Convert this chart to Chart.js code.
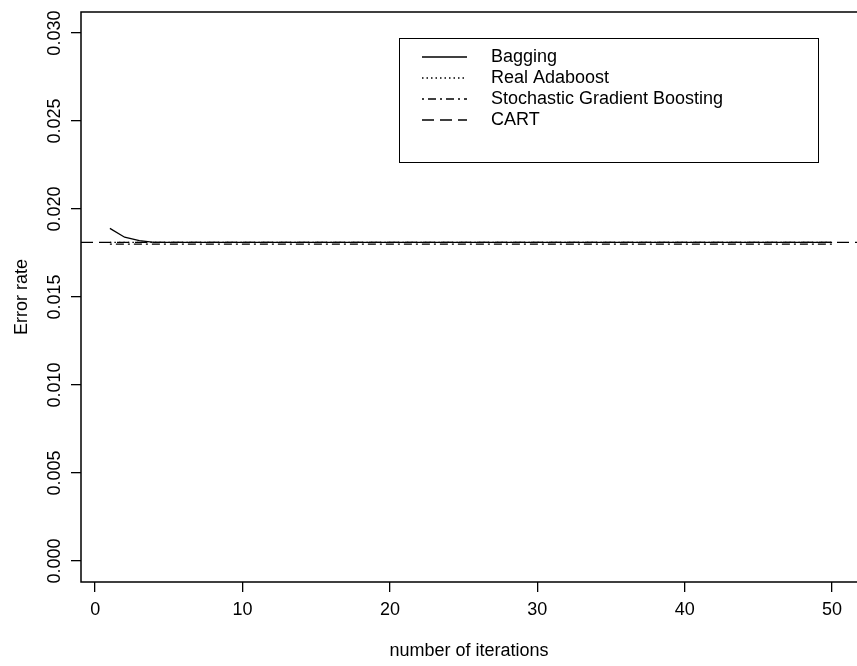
<!DOCTYPE html>
<html>
<head>
<meta charset="utf-8">
<script src="https://cdn.jsdelivr.net/npm/chart.js@4.4.1/dist/chart.umd.min.js"></script>
<style>
  html, body { margin: 0; padding: 0; background: #fff; overflow: hidden; }
  #wrap { width: 857px; height: 666px; }
</style>
</head>
<body>
<div id="wrap"><canvas id="chart" width="857" height="666"></canvas></div>
<script>
// ------------------------------------------------------------
// Error rate vs number of iterations
// ------------------------------------------------------------

const iterations = [
  1, 2, 3, 4, 5, 6, 7, 8, 9, 10,
  11, 12, 13, 14, 15, 16, 17, 18, 19, 20,
  21, 22, 23, 24, 25, 26, 27, 28, 29, 30,
  31, 32, 33, 34, 35, 36, 37, 38, 39, 40,
  41, 42, 43, 44, 45, 46, 47, 48, 49, 50
];

const bagging = [
  0.0189, 0.0184, 0.0182, 0.0181, 0.0181, 0.0181, 0.0181, 0.0181, 0.0181, 0.0181,
  0.0181, 0.0181, 0.0181, 0.0181, 0.0181, 0.0181, 0.0181, 0.0181, 0.0181, 0.0181,
  0.0181, 0.0181, 0.0181, 0.0181, 0.0181, 0.0181, 0.0181, 0.0181, 0.0181, 0.0181,
  0.0181, 0.0181, 0.0181, 0.0181, 0.0181, 0.0181, 0.0181, 0.0181, 0.0181, 0.0181,
  0.0181, 0.0181, 0.0181, 0.0181, 0.0181, 0.0181, 0.0181, 0.0181, 0.0181, 0.0181
];

const realAdaboost = [
  0.0181, 0.0181, 0.0181, 0.0181, 0.0181, 0.0181, 0.0181, 0.0181, 0.0181, 0.0181,
  0.0181, 0.0181, 0.0181, 0.0181, 0.0181, 0.0181, 0.0181, 0.0181, 0.0181, 0.0181,
  0.0181, 0.0181, 0.0181, 0.0181, 0.0181, 0.0181, 0.0181, 0.0181, 0.0181, 0.0181,
  0.0181, 0.0181, 0.0181, 0.0181, 0.0181, 0.0181, 0.0181, 0.0181, 0.0181, 0.0181,
  0.0181, 0.0181, 0.0181, 0.0181, 0.0181, 0.0181, 0.0181, 0.0181, 0.0181, 0.0181
];

const stochGradBoost = [
  0.0180, 0.0180, 0.0180, 0.0180, 0.0180, 0.0180, 0.0180, 0.0180, 0.0180, 0.0180,
  0.0180, 0.0180, 0.0180, 0.0180, 0.0180, 0.0180, 0.0180, 0.0180, 0.0180, 0.0180,
  0.0180, 0.0180, 0.0180, 0.0180, 0.0180, 0.0180, 0.0180, 0.0180, 0.0180, 0.0180,
  0.0180, 0.0180, 0.0180, 0.0180, 0.0180, 0.0180, 0.0180, 0.0180, 0.0180, 0.0180,
  0.0180, 0.0180, 0.0180, 0.0180, 0.0180, 0.0180, 0.0180, 0.0180, 0.0180, 0.0180
];

// single CART tree: a horizontal reference line across the whole plot
const cartLevel = 0.0181;

const seriesNames = ['Bagging', 'Real Adaboost', 'Stochastic Gradient Boosting', 'CART'];

// axis limits (R-style 4% extension) and ticks
const xLimits = [-0.96, 51.69];
const yLimits = [-0.0012, 0.0312];
const xTickValues = [0, 10, 20, 30, 40, 50];
const yTickValues = [0, 0.005, 0.010, 0.015, 0.020, 0.025, 0.030];
const yTickLabels = ['0.000', '0.005', '0.010', '0.015', '0.020', '0.025', '0.030'];

const FONT = "'Liberation Sans', Arial, sans-serif";
const FONT_SIZE = 18;

function toPoints(ys) {
  return ys.map((y, i) => ({ x: iterations[i], y }));
}

function lineDataset(label, data, dash) {
  return {
    label,
    data,
    borderColor: '#000',
    borderWidth: 1.3,
    borderDash: dash,
    pointRadius: 0,
    fill: false,
    tension: 0,
    clip: false,
  };
}

const datasets = [
  lineDataset(seriesNames[0], toPoints(bagging), []),
  lineDataset(seriesNames[1], toPoints(realAdaboost), [1.5, 3]),
  lineDataset(seriesNames[2], toPoints(stochGradBoost), [2, 4, 8, 4]),
  lineDataset(seriesNames[3], [{ x: xLimits[0], y: cartLevel }, { x: xLimits[1], y: cartLevel }], [12, 6]),
];

// box round the plot region (top / left / bottom; right edge is cropped off)
const framePlugin = {
  id: 'frame',
  afterDraw(chart) {
    const { ctx, chartArea: a } = chart;
    ctx.save();
    ctx.strokeStyle = '#000';
    ctx.lineWidth = 1.5;
    ctx.beginPath();
    ctx.moveTo(a.right + 2, a.top);
    ctx.lineTo(a.left, a.top);
    ctx.lineTo(a.left, a.bottom);
    ctx.lineTo(a.right + 2, a.bottom);
    ctx.stroke();
    ctx.restore();
  }
};

// rotated y tick labels (R las=0 style)
const yLabelsPlugin = {
  id: 'yLabels',
  afterDraw(chart) {
    const { ctx } = chart;
    const y = chart.scales.y;
    ctx.save();
    ctx.fillStyle = '#000';
    ctx.font = `${FONT_SIZE}px ${FONT}`;
    ctx.textAlign = 'center';
    ctx.textBaseline = 'middle';
    yTickValues.forEach((v, i) => {
      const py = y.getPixelForValue(v);
      ctx.save();
      ctx.translate(55, py);
      ctx.rotate(-Math.PI / 2);
      ctx.fillText(yTickLabels[i], 0, 0);
      ctx.restore();
    });
    ctx.restore();
  }
};

// boxed legend inside the plot, like R's legend()
const legendPlugin = {
  id: 'boxLegend',
  afterDraw(chart) {
    const { ctx } = chart;
    const box = { left: 399, top: 38, right: 818, bottom: 162 };
    ctx.save();
    ctx.fillStyle = '#fff';
    ctx.fillRect(box.left, box.top, box.right - box.left, box.bottom - box.top);
    ctx.strokeStyle = '#000';
    ctx.lineWidth = 1;
    ctx.strokeRect(box.left + 0.5, box.top + 0.5, box.right - box.left, box.bottom - box.top);
    ctx.font = `${FONT_SIZE}px ${FONT}`;
    ctx.textBaseline = 'middle';
    ctx.fillStyle = '#000';
    chart.data.datasets.forEach((ds, i) => {
      const cy = 57 + i * 21;
      ctx.beginPath();
      ctx.setLineDash(ds.borderDash || []);
      ctx.lineWidth = ds.borderWidth;
      ctx.moveTo(422, cy);
      ctx.lineTo(467, cy);
      ctx.stroke();
      ctx.setLineDash([]);
      ctx.fillText(ds.label, 491, cy);
    });
    ctx.restore();
  }
};

new Chart(document.getElementById('chart'), {
  type: 'line',
  data: { datasets },
  options: {
    responsive: false,
    animation: false,
    events: [],
    layout: { padding: { top: 12, right: 0, left: 0, bottom: 0 } },
    plugins: {
      legend: { display: false },
      tooltip: { enabled: false },
    },
    scales: {
      x: {
        type: 'linear',
        min: xLimits[0],
        max: xLimits[1],
        afterBuildTicks: (s) => { s.ticks = xTickValues.map(v => ({ value: v })); },
        afterFit: (s) => { s.height = 84; },
        grid: { drawOnChartArea: false, drawTicks: true, tickLength: 10, color: '#000', lineWidth: 1.3 },
        border: { display: false },
        ticks: {
          color: '#000',
          font: { family: FONT, size: FONT_SIZE },
          padding: 7,
          maxRotation: 0,
          callback: (v) => String(v),
        },
        title: {
          display: true,
          text: 'number of iterations',
          color: '#000',
          font: { family: FONT, size: FONT_SIZE },
          padding: { top: 0, bottom: 4 },
        },
      },
      y: {
        type: 'linear',
        min: yLimits[0],
        max: yLimits[1],
        afterBuildTicks: (s) => { s.ticks = yTickValues.map(v => ({ value: v })); },
        afterFit: (s) => { s.width = 81; },
        grid: { drawOnChartArea: false, drawTicks: true, tickLength: 10, color: '#000', lineWidth: 1.3 },
        border: { display: false },
        ticks: { display: false },
        title: {
          display: true,
          text: 'Error rate',
          color: '#000',
          font: { family: FONT, size: FONT_SIZE },
          padding: { top: 11, bottom: 0 },
        },
      },
    },
  },
  plugins: [framePlugin, yLabelsPlugin, legendPlugin],
});
</script>
</body>
</html>
